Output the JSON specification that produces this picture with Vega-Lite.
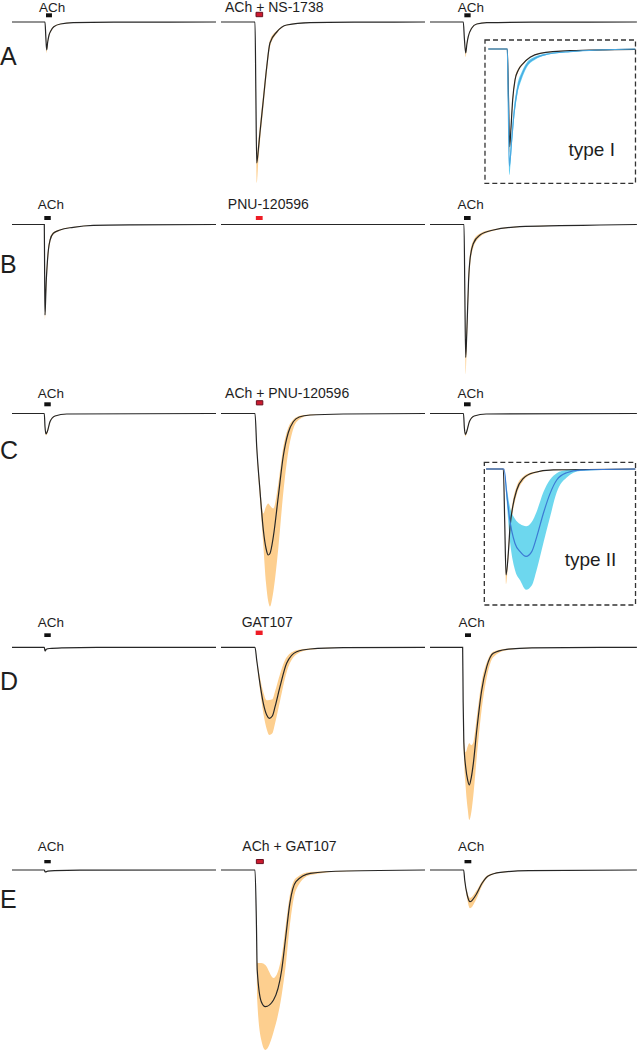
{
"$schema":"https://vega.github.io/schema/vega-lite/v6.json",
"padding":0,
"spacing":{"row":0,"column":5},
"columns":3,
"bounds":"flush",
"config":{"view":{"stroke":null},"axis":{"disable":true},"text":{"font":"Liberation Sans","color":"#1e1e1e"},"line":{"interpolate":"monotone"},"area":{"interpolate":"monotone"}},
"datasets":{
"tr":[
{"row":"A","panel":1,"t":0,"mean":0,"lo":0,"hi":0},{"row":"A","panel":1,"t":19.4,"mean":0,"lo":0,"hi":0},{"row":"A","panel":1,"t":19.9,"mean":-0.15,"lo":-0.16,"hi":-0.14},{"row":"A","panel":1,"t":20.4,"mean":-0.28,"lo":-0.31,"hi":-0.26},{"row":"A","panel":1,"t":21,"mean":-0.2,"lo":-0.22,"hi":-0.18},{"row":"A","panel":1,"t":21.8,"mean":-0.13,"lo":-0.14,"hi":-0.12},{"row":"A","panel":1,"t":22.8,"mean":-0.09,"lo":-0.1,"hi":-0.08},{"row":"A","panel":1,"t":24.6,"mean":-0.047,"lo":-0.052,"hi":-0.042},{"row":"A","panel":1,"t":28.5,"mean":-0.02,"lo":-0.022,"hi":-0.018},{"row":"A","panel":1,"t":36,"mean":-0.007,"lo":-0.008,"hi":-0.006},{"row":"A","panel":1,"t":60,"mean":-0.002,"lo":-0.002,"hi":-0.002},{"row":"A","panel":1,"t":120,"mean":0,"lo":0,"hi":0},
{"row":"A","panel":2,"t":0,"mean":0,"lo":0,"hi":0},{"row":"A","panel":2,"t":20,"mean":0,"lo":0,"hi":0},{"row":"A","panel":2,"t":20.5,"mean":-0.7,"lo":-0.78,"hi":-0.65},{"row":"A","panel":2,"t":21,"mean":-1.41,"lo":-1.61,"hi":-1.35},{"row":"A","panel":2,"t":22,"mean":-1.27,"lo":-1.38,"hi":-1.18},{"row":"A","panel":2,"t":22.9,"mean":-1.11,"lo":-1.2,"hi":-1.03},{"row":"A","panel":2,"t":24.9,"mean":-0.78,"lo":-0.86,"hi":-0.71},{"row":"A","panel":2,"t":26.9,"mean":-0.45,"lo":-0.52,"hi":-0.4},{"row":"A","panel":2,"t":28.8,"mean":-0.21,"lo":-0.25,"hi":-0.18},{"row":"A","panel":2,"t":32.8,"mean":-0.1,"lo":-0.115,"hi":-0.088},{"row":"A","panel":2,"t":38.6,"mean":-0.03,"lo":-0.035,"hi":-0.027},{"row":"A","panel":2,"t":52.4,"mean":-0.007,"lo":-0.008,"hi":-0.006},{"row":"A","panel":2,"t":80,"mean":-0.002,"lo":-0.002,"hi":-0.002},{"row":"A","panel":2,"t":120,"mean":0,"lo":0,"hi":0},
{"row":"A","panel":3,"t":0,"mean":0,"lo":0,"hi":0},{"row":"A","panel":3,"t":19.6,"mean":0,"lo":0,"hi":0},{"row":"A","panel":3,"t":20.2,"mean":-0.16,"lo":-0.17,"hi":-0.15},{"row":"A","panel":3,"t":21,"mean":-0.31,"lo":-0.35,"hi":-0.29},{"row":"A","panel":3,"t":21.7,"mean":-0.22,"lo":-0.24,"hi":-0.2},{"row":"A","panel":3,"t":22.5,"mean":-0.147,"lo":-0.16,"hi":-0.135},{"row":"A","panel":3,"t":24.5,"mean":-0.063,"lo":-0.07,"hi":-0.057},{"row":"A","panel":3,"t":27.5,"mean":-0.02,"lo":-0.022,"hi":-0.018},{"row":"A","panel":3,"t":33.4,"mean":-0.007,"lo":-0.008,"hi":-0.006},{"row":"A","panel":3,"t":60,"mean":-0.002,"lo":-0.002,"hi":-0.002},{"row":"A","panel":3,"t":121.7,"mean":0,"lo":0,"hi":0},
{"row":"B","panel":1,"t":0,"mean":0,"lo":0,"hi":0},{"row":"B","panel":1,"t":19,"mean":0,"lo":0,"hi":0},{"row":"B","panel":1,"t":19.2,"mean":-0.5,"lo":-0.52,"hi":-0.48},{"row":"B","panel":1,"t":19.4,"mean":-0.905,"lo":-0.95,"hi":-0.88},{"row":"B","panel":1,"t":19.7,"mean":-0.79,"lo":-0.85,"hi":-0.74},{"row":"B","panel":1,"t":20.1,"mean":-0.585,"lo":-0.66,"hi":-0.52},{"row":"B","panel":1,"t":20.5,"mean":-0.455,"lo":-0.53,"hi":-0.4},{"row":"B","panel":1,"t":21.4,"mean":-0.255,"lo":-0.3,"hi":-0.22},{"row":"B","panel":1,"t":22.4,"mean":-0.155,"lo":-0.18,"hi":-0.135},{"row":"B","panel":1,"t":24.3,"mean":-0.088,"lo":-0.1,"hi":-0.078},{"row":"B","panel":1,"t":28.2,"mean":-0.055,"lo":-0.062,"hi":-0.049},{"row":"B","panel":1,"t":36,"mean":-0.028,"lo":-0.031,"hi":-0.025},{"row":"B","panel":1,"t":47.8,"mean":-0.008,"lo":-0.009,"hi":-0.007},{"row":"B","panel":1,"t":70,"mean":-0.003,"lo":-0.003,"hi":-0.003},{"row":"B","panel":1,"t":120,"mean":0,"lo":0,"hi":0},
{"row":"B","panel":2,"t":0,"mean":0,"lo":0,"hi":0},{"row":"B","panel":2,"t":120,"mean":0,"lo":0,"hi":0},
{"row":"B","panel":3,"t":0,"mean":0,"lo":0,"hi":0},{"row":"B","panel":3,"t":20,"mean":0,"lo":0,"hi":0},{"row":"B","panel":3,"t":20.5,"mean":-0.7,"lo":-0.75,"hi":-0.66},{"row":"B","panel":3,"t":21,"mean":-1.33,"lo":-1.5,"hi":-1.25},{"row":"B","panel":3,"t":21.5,"mean":-1.15,"lo":-1.27,"hi":-1.05},{"row":"B","panel":3,"t":21.9,"mean":-0.955,"lo":-1.06,"hi":-0.87},{"row":"B","panel":3,"t":22.7,"mean":-0.555,"lo":-0.66,"hi":-0.48},{"row":"B","panel":3,"t":23.5,"mean":-0.355,"lo":-0.43,"hi":-0.3},{"row":"B","panel":3,"t":25.5,"mean":-0.19,"lo":-0.23,"hi":-0.16},{"row":"B","panel":3,"t":29.4,"mean":-0.105,"lo":-0.125,"hi":-0.09},{"row":"B","panel":3,"t":37.3,"mean":-0.055,"lo":-0.062,"hi":-0.048},{"row":"B","panel":3,"t":52.9,"mean":-0.022,"lo":-0.025,"hi":-0.019},{"row":"B","panel":3,"t":76.5,"mean":-0.012,"lo":-0.013,"hi":-0.011},{"row":"B","panel":3,"t":100,"mean":-0.005,"lo":-0.005,"hi":-0.005},{"row":"B","panel":3,"t":121.7,"mean":0,"lo":0,"hi":0},
{"row":"C","panel":1,"t":0,"mean":0,"lo":0,"hi":0},{"row":"C","panel":1,"t":19,"mean":0,"lo":0,"hi":0},{"row":"C","panel":1,"t":19.4,"mean":-0.13,"lo":-0.14,"hi":-0.12},{"row":"C","panel":1,"t":20,"mean":-0.205,"lo":-0.22,"hi":-0.19},{"row":"C","panel":1,"t":20.8,"mean":-0.18,"lo":-0.195,"hi":-0.167},{"row":"C","panel":1,"t":22.4,"mean":-0.08,"lo":-0.087,"hi":-0.073},{"row":"C","panel":1,"t":25.3,"mean":-0.025,"lo":-0.028,"hi":-0.022},{"row":"C","panel":1,"t":32.2,"mean":-0.005,"lo":-0.005,"hi":-0.005},{"row":"C","panel":1,"t":120,"mean":0,"lo":0,"hi":0},
{"row":"C","panel":2,"t":0,"mean":0,"lo":0,"hi":0},{"row":"C","panel":2,"t":20,"mean":0,"lo":0,"hi":0},{"row":"C","panel":2,"t":21,"mean":-0.33,"lo":-0.36,"hi":-0.3},{"row":"C","panel":2,"t":22.9,"mean":-0.765,"lo":-0.85,"hi":-0.7},{"row":"C","panel":2,"t":24.9,"mean":-1.165,"lo":-1.32,"hi":-1.0},{"row":"C","panel":2,"t":26.5,"mean":-1.35,"lo":-1.7,"hi":-0.93},{"row":"C","panel":2,"t":27.8,"mean":-1.415,"lo":-1.88,"hi":-0.9},{"row":"C","panel":2,"t":28.8,"mean":-1.4,"lo":-1.93,"hi":-0.92},{"row":"C","panel":2,"t":30.8,"mean":-1.23,"lo":-1.78,"hi":-0.95},{"row":"C","panel":2,"t":33.7,"mean":-0.83,"lo":-1.35,"hi":-0.7},{"row":"C","panel":2,"t":36.6,"mean":-0.43,"lo":-0.8,"hi":-0.34},{"row":"C","panel":2,"t":39.6,"mean":-0.19,"lo":-0.38,"hi":-0.14},{"row":"C","panel":2,"t":42.6,"mean":-0.08,"lo":-0.15,"hi":-0.06},{"row":"C","panel":2,"t":46,"mean":-0.035,"lo":-0.06,"hi":-0.025},{"row":"C","panel":2,"t":52.4,"mean":-0.015,"lo":-0.02,"hi":-0.01},{"row":"C","panel":2,"t":72,"mean":-0.005,"lo":-0.005,"hi":-0.005},{"row":"C","panel":2,"t":120,"mean":0,"lo":0,"hi":0},
{"row":"C","panel":3,"t":0,"mean":0,"lo":0,"hi":0},{"row":"C","panel":3,"t":19.7,"mean":0,"lo":0,"hi":0},{"row":"C","panel":3,"t":20.2,"mean":-0.14,"lo":-0.15,"hi":-0.13},{"row":"C","panel":3,"t":20.8,"mean":-0.21,"lo":-0.23,"hi":-0.195},{"row":"C","panel":3,"t":21.6,"mean":-0.18,"lo":-0.195,"hi":-0.167},{"row":"C","panel":3,"t":23.2,"mean":-0.08,"lo":-0.087,"hi":-0.073},{"row":"C","panel":3,"t":26,"mean":-0.025,"lo":-0.028,"hi":-0.022},{"row":"C","panel":3,"t":33,"mean":-0.005,"lo":-0.005,"hi":-0.005},{"row":"C","panel":3,"t":121.7,"mean":0,"lo":0,"hi":0},
{"row":"D","panel":1,"t":0,"mean":0,"lo":0,"hi":0},{"row":"D","panel":1,"t":19,"mean":0,"lo":0,"hi":0},{"row":"D","panel":1,"t":19.4,"mean":-0.037,"lo":-0.04,"hi":-0.034},{"row":"D","panel":1,"t":20.2,"mean":-0.02,"lo":-0.022,"hi":-0.018},{"row":"D","panel":1,"t":22,"mean":-0.012,"lo":-0.013,"hi":-0.011},{"row":"D","panel":1,"t":30,"mean":-0.005,"lo":-0.005,"hi":-0.005},{"row":"D","panel":1,"t":50,"mean":0,"lo":0,"hi":0},{"row":"D","panel":1,"t":120,"mean":0,"lo":0,"hi":0},
{"row":"D","panel":2,"t":0,"mean":0,"lo":0,"hi":0},{"row":"D","panel":2,"t":20,"mean":0,"lo":0,"hi":0},{"row":"D","panel":2,"t":21,"mean":-0.127,"lo":-0.14,"hi":-0.115},{"row":"D","panel":2,"t":22.9,"mean":-0.36,"lo":-0.42,"hi":-0.3},{"row":"D","panel":2,"t":24.9,"mean":-0.56,"lo":-0.66,"hi":-0.45},{"row":"D","panel":2,"t":26.9,"mean":-0.677,"lo":-0.82,"hi":-0.53},{"row":"D","panel":2,"t":28.4,"mean":-0.71,"lo":-0.877,"hi":-0.527},{"row":"D","panel":2,"t":30.2,"mean":-0.687,"lo":-0.86,"hi":-0.52},{"row":"D","panel":2,"t":31.8,"mean":-0.594,"lo":-0.76,"hi":-0.44},{"row":"D","panel":2,"t":34.7,"mean":-0.394,"lo":-0.54,"hi":-0.27},{"row":"D","panel":2,"t":38.6,"mean":-0.16,"lo":-0.25,"hi":-0.1},{"row":"D","panel":2,"t":44.5,"mean":-0.044,"lo":-0.07,"hi":-0.03},{"row":"D","panel":2,"t":52.4,"mean":-0.017,"lo":-0.025,"hi":-0.012},{"row":"D","panel":2,"t":72,"mean":-0.004,"lo":-0.005,"hi":-0.003},{"row":"D","panel":2,"t":120,"mean":0,"lo":0,"hi":0},
{"row":"D","panel":3,"t":0,"mean":0,"lo":0,"hi":0},{"row":"D","panel":3,"t":19.2,"mean":0,"lo":0,"hi":0},{"row":"D","panel":3,"t":19.5,"mean":-0.55,"lo":-0.6,"hi":-0.5},{"row":"D","panel":3,"t":19.9,"mean":-0.95,"lo":-1.05,"hi":-0.88},{"row":"D","panel":3,"t":21,"mean":-1.2,"lo":-1.4,"hi":-1.05},{"row":"D","panel":3,"t":22.2,"mean":-1.33,"lo":-1.62,"hi":-0.99},{"row":"D","panel":3,"t":23.1,"mean":-1.377,"lo":-1.727,"hi":-0.96},{"row":"D","panel":3,"t":24.3,"mean":-1.3,"lo":-1.65,"hi":-0.98},{"row":"D","panel":3,"t":25.5,"mean":-1.16,"lo":-1.48,"hi":-0.95},{"row":"D","panel":3,"t":27.5,"mean":-0.83,"lo":-1.1,"hi":-0.7},{"row":"D","panel":3,"t":30.4,"mean":-0.43,"lo":-0.62,"hi":-0.34},{"row":"D","panel":3,"t":33.4,"mean":-0.194,"lo":-0.3,"hi":-0.15},{"row":"D","panel":3,"t":37.2,"mean":-0.06,"lo":-0.1,"hi":-0.045},{"row":"D","panel":3,"t":45.1,"mean":-0.02,"lo":-0.03,"hi":-0.015},{"row":"D","panel":3,"t":60,"mean":-0.005,"lo":-0.006,"hi":-0.004},{"row":"D","panel":3,"t":121.7,"mean":0,"lo":0,"hi":0},
{"row":"E","panel":1,"t":0,"mean":0,"lo":0,"hi":0},{"row":"E","panel":1,"t":19,"mean":0,"lo":0,"hi":0},{"row":"E","panel":1,"t":19.5,"mean":-0.02,"lo":-0.022,"hi":-0.018},{"row":"E","panel":1,"t":21,"mean":-0.012,"lo":-0.013,"hi":-0.011},{"row":"E","panel":1,"t":25,"mean":-0.006,"lo":-0.006,"hi":-0.006},{"row":"E","panel":1,"t":40,"mean":-0.002,"lo":-0.002,"hi":-0.002},{"row":"E","panel":1,"t":120,"mean":0,"lo":0,"hi":0},
{"row":"E","panel":2,"t":0,"mean":0,"lo":0,"hi":0},{"row":"E","panel":2,"t":20,"mean":0,"lo":0,"hi":0},{"row":"E","panel":2,"t":20.8,"mean":-0.5,"lo":-0.55,"hi":-0.45},{"row":"E","panel":2,"t":21.3,"mean":-1,"lo":-1.3,"hi":-0.93},{"row":"E","panel":2,"t":23.7,"mean":-1.317,"lo":-1.7,"hi":-0.93},{"row":"E","panel":2,"t":26.1,"mean":-1.367,"lo":-1.8,"hi":-0.95},{"row":"E","panel":2,"t":30.9,"mean":-1.3,"lo":-1.62,"hi":-1.08},{"row":"E","panel":2,"t":35.7,"mean":-1,"lo":-1.25,"hi":-0.86},{"row":"E","panel":2,"t":38.1,"mean":-0.667,"lo":-0.95,"hi":-0.55},{"row":"E","panel":2,"t":40.5,"mean":-0.333,"lo":-0.55,"hi":-0.25},{"row":"E","panel":2,"t":44.1,"mean":-0.117,"lo":-0.2,"hi":-0.08},{"row":"E","panel":2,"t":52.5,"mean":-0.033,"lo":-0.05,"hi":-0.02},{"row":"E","panel":2,"t":74,"mean":-0.01,"lo":-0.012,"hi":-0.008},{"row":"E","panel":2,"t":120,"mean":0,"lo":0,"hi":0},
{"row":"E","panel":3,"t":0,"mean":0,"lo":0,"hi":0},{"row":"E","panel":3,"t":19.8,"mean":0,"lo":0,"hi":0},{"row":"E","panel":3,"t":20.4,"mean":-0.1,"lo":-0.11,"hi":-0.09},{"row":"E","panel":3,"t":21.9,"mean":-0.25,"lo":-0.29,"hi":-0.22},{"row":"E","panel":3,"t":23.5,"mean":-0.317,"lo":-0.383,"hi":-0.28},{"row":"E","panel":3,"t":27,"mean":-0.25,"lo":-0.3,"hi":-0.215},{"row":"E","panel":3,"t":30.6,"mean":-0.133,"lo":-0.16,"hi":-0.115},{"row":"E","panel":3,"t":34.2,"mean":-0.06,"lo":-0.07,"hi":-0.05},{"row":"E","panel":3,"t":41.4,"mean":-0.023,"lo":-0.027,"hi":-0.02},{"row":"E","panel":3,"t":58,"mean":-0.007,"lo":-0.008,"hi":-0.006},{"row":"E","panel":3,"t":121.7,"mean":0,"lo":0,"hi":0}
],
"ins":[
{"inset":"A","series":"control","t":-4.75,"mean":0,"lo":0,"hi":0},{"inset":"A","series":"control","t":0,"mean":0,"lo":0,"hi":0},{"inset":"A","series":"control","t":0.3,"mean":-0.5,"lo":-0.52,"hi":-0.48},{"inset":"A","series":"control","t":0.6,"mean":-1,"lo":-1.06,"hi":-0.97},{"inset":"A","series":"control","t":0.84,"mean":-0.863,"lo":-0.9,"hi":-0.83},{"inset":"A","series":"control","t":1.34,"mean":-0.522,"lo":-0.56,"hi":-0.49},{"inset":"A","series":"control","t":1.93,"mean":-0.317,"lo":-0.34,"hi":-0.295},{"inset":"A","series":"control","t":2.76,"mean":-0.215,"lo":-0.23,"hi":-0.2},{"inset":"A","series":"control","t":4,"mean":-0.147,"lo":-0.157,"hi":-0.137},{"inset":"A","series":"control","t":5.7,"mean":-0.085,"lo":-0.09,"hi":-0.08},{"inset":"A","series":"control","t":8.2,"mean":-0.044,"lo":-0.047,"hi":-0.041},{"inset":"A","series":"control","t":15.7,"mean":-0.017,"lo":-0.018,"hi":-0.016},{"inset":"A","series":"control","t":32,"mean":-0.003,"lo":-0.003,"hi":-0.003},
{"inset":"A","series":"modulator","t":-4.75,"mean":0,"lo":0,"hi":0},{"inset":"A","series":"modulator","t":0,"mean":0,"lo":0,"hi":0},{"inset":"A","series":"modulator","t":0.25,"mean":-0.6,"lo":-0.63,"hi":-0.57},{"inset":"A","series":"modulator","t":0.5,"mean":-1.2,"lo":-1.29,"hi":-1.12},{"inset":"A","series":"modulator","t":1.1,"mean":-0.93,"lo":-1,"hi":-0.87},{"inset":"A","series":"modulator","t":1.68,"mean":-0.66,"lo":-0.72,"hi":-0.6},{"inset":"A","series":"modulator","t":2.5,"mean":-0.42,"lo":-0.47,"hi":-0.37},{"inset":"A","series":"modulator","t":3.6,"mean":-0.27,"lo":-0.31,"hi":-0.235},{"inset":"A","series":"modulator","t":4.85,"mean":-0.164,"lo":-0.19,"hi":-0.14},{"inset":"A","series":"modulator","t":6.9,"mean":-0.095,"lo":-0.11,"hi":-0.08},{"inset":"A","series":"modulator","t":9.85,"mean":-0.054,"lo":-0.062,"hi":-0.046},{"inset":"A","series":"modulator","t":15.7,"mean":-0.027,"lo":-0.03,"hi":-0.024},{"inset":"A","series":"modulator","t":32,"mean":0,"lo":0,"hi":0},
{"inset":"C","series":"control","t":-4.3,"mean":0,"lo":0,"hi":0},{"inset":"C","series":"control","t":0,"mean":0,"lo":0,"hi":0},{"inset":"C","series":"control","t":0.35,"mean":-0.5,"lo":-0.52,"hi":-0.48},{"inset":"C","series":"control","t":0.68,"mean":-1,"lo":-1.09,"hi":-0.97},{"inset":"C","series":"control","t":1.25,"mean":-0.795,"lo":-0.85,"hi":-0.75},{"inset":"C","series":"control","t":1.68,"mean":-0.544,"lo":-0.6,"hi":-0.5},{"inset":"C","series":"control","t":2.35,"mean":-0.356,"lo":-0.41,"hi":-0.31},{"inset":"C","series":"control","t":3.35,"mean":-0.198,"lo":-0.24,"hi":-0.16},{"inset":"C","series":"control","t":5,"mean":-0.088,"lo":-0.11,"hi":-0.07},{"inset":"C","series":"control","t":7.5,"mean":-0.035,"lo":-0.045,"hi":-0.028},{"inset":"C","series":"control","t":12.5,"mean":-0.009,"lo":-0.012,"hi":-0.007},{"inset":"C","series":"control","t":33,"mean":0,"lo":0,"hi":0},
{"inset":"C","series":"modulator","t":-4.3,"mean":0,"lo":0,"hi":0},{"inset":"C","series":"modulator","t":0.18,"mean":0,"lo":0,"hi":0},{"inset":"C","series":"modulator","t":0.84,"mean":-0.23,"lo":-0.3,"hi":-0.17},{"inset":"C","series":"modulator","t":1.5,"mean":-0.45,"lo":-0.62,"hi":-0.33},{"inset":"C","series":"modulator","t":2.9,"mean":-0.7,"lo":-0.95,"hi":-0.47},{"inset":"C","series":"modulator","t":4.2,"mean":-0.78,"lo":-1.05,"hi":-0.52},{"inset":"C","series":"modulator","t":5.7,"mean":-0.825,"lo":-1.14,"hi":-0.54},{"inset":"C","series":"modulator","t":7.1,"mean":-0.78,"lo":-1.1,"hi":-0.5},{"inset":"C","series":"modulator","t":8.35,"mean":-0.64,"lo":-0.95,"hi":-0.4},{"inset":"C","series":"modulator","t":10,"mean":-0.42,"lo":-0.7,"hi":-0.22},{"inset":"C","series":"modulator","t":11.7,"mean":-0.23,"lo":-0.45,"hi":-0.1},{"inset":"C","series":"modulator","t":13.35,"mean":-0.104,"lo":-0.22,"hi":-0.04},{"inset":"C","series":"modulator","t":15.85,"mean":-0.035,"lo":-0.08,"hi":-0.01},{"inset":"C","series":"modulator","t":19.2,"mean":-0.01,"lo":-0.02,"hi":0},{"inset":"C","series":"modulator","t":33,"mean":0,"lo":0,"hi":0}
],
"apps":[
{"row":"A","panel":1,"label":"ACh","t0":20,"t1":23.5},
{"row":"A","panel":2,"label":"ACh + NS-1738","t0":20.6,"t1":24.5},
{"row":"A","panel":3,"label":"ACh","t0":20.2,"t1":23.9},
{"row":"B","panel":1,"label":"ACh","t0":19,"t1":22.8},
{"row":"B","panel":2,"label":"PNU-120596","t0":20.5,"t1":24.5},
{"row":"B","panel":3,"label":"ACh","t0":20,"t1":23.9},
{"row":"C","panel":1,"label":"ACh","t0":19,"t1":22.8},
{"row":"C","panel":2,"label":"ACh + PNU-120596","t0":20.8,"t1":24.6},
{"row":"C","panel":3,"label":"ACh","t0":20,"t1":23.9},
{"row":"D","panel":1,"label":"ACh","t0":19,"t1":22.8},
{"row":"D","panel":2,"label":"GAT107","t0":20.4,"t1":24.5},
{"row":"D","panel":3,"label":"ACh","t0":20.6,"t1":24.1},
{"row":"E","panel":1,"label":"ACh","t0":19,"t1":22.8},
{"row":"E","panel":2,"label":"ACh + GAT107","t0":20.8,"t1":24.9},
{"row":"E","panel":3,"label":"ACh","t0":20.3,"t1":24.3}
]
},
"concat":[
 {"width":216,"height":195,"layer":[
  {"data":{"name":"tr"},"transform":[{"filter":"datum.row==='A' && datum.panel===1"}],
   "encoding":{"x":{"field":"t","type":"quantitative","scale":{"domain":[-7.06,120],"nice":false}}},
   "layer":[
    {"mark":{"type":"area","color":"#fdcf8f"},"encoding":{"y":{"field":"lo","type":"quantitative","scale":{"domain":[-1.73,0.22],"nice":false}},"y2":{"field":"hi"}}},
    {"mark":{"type":"line","color":"#262626","strokeWidth":1.2},"encoding":{"y":{"field":"mean","type":"quantitative","scale":{"domain":[-1.73,0.22],"nice":false}}}}
   ]},
  {"data":{"name":"apps"},"transform":[{"filter":"datum.row==='A' && datum.panel===1"}],
   "encoding":{"x":{"field":"t0","type":"quantitative","scale":{"domain":[-7.06,120],"nice":false}}},
   "layer":[
    {"mark":{"type":"rect","fill":"#111"},"encoding":{"x2":{"field":"t1"},"y":{"datum":0.087,"type":"quantitative","scale":{"domain":[-1.73,0.22],"nice":false}},"y2":{"datum":0.047}}},
    {"mark":{"type":"text","align":"left","baseline":"middle","dx":-7,"fontSize":13.5},"encoding":{"y":{"datum":0.145,"type":"quantitative","scale":{"domain":[-1.73,0.22],"nice":false}},"text":{"field":"label"}}}
   ]},
  {"data":{"values":[{"letter":"A"}]},"mark":{"type":"text","align":"left","baseline":"middle","fontSize":25},"encoding":{"x":{"datum":-7.06,"type":"quantitative","scale":{"domain":[-7.06,120],"nice":false}},"y":{"datum":-0.35,"type":"quantitative","scale":{"domain":[-1.73,0.22],"nice":false}},"text":{"field":"letter"}}}
 ]},
 {"width":204,"height":195,"layer":[
  {"data":{"name":"tr"},"transform":[{"filter":"datum.row==='A' && datum.panel===2"}],
   "encoding":{"x":{"field":"t","type":"quantitative","scale":{"domain":[0,120],"nice":false}}},
   "layer":[
    {"mark":{"type":"area","color":"#fdcf8f"},"encoding":{"y":{"field":"lo","type":"quantitative","scale":{"domain":[-1.73,0.22],"nice":false}},"y2":{"field":"hi"}}},
    {"mark":{"type":"line","color":"#262626","strokeWidth":1.2},"encoding":{"y":{"field":"mean","type":"quantitative","scale":{"domain":[-1.73,0.22],"nice":false}}}}
   ]},
  {"data":{"name":"apps"},"transform":[{"filter":"datum.row==='A' && datum.panel===2"}],
   "encoding":{"x":{"field":"t0","type":"quantitative","scale":{"domain":[0,120],"nice":false}}},
   "layer":[
    {"mark":{"type":"rect","fill":"#cc1a2e","stroke":"#6a1020","strokeWidth":1},"encoding":{"x2":{"field":"t1"},"y":{"datum":0.097,"type":"quantitative","scale":{"domain":[-1.73,0.22],"nice":false}},"y2":{"datum":0.053}}},
    {"mark":{"type":"text","align":"left","baseline":"middle","dx":-31,"fontSize":14},"encoding":{"y":{"datum":0.145,"type":"quantitative","scale":{"domain":[-1.73,0.22],"nice":false}},"text":{"field":"label"}}}
   ]}
 ]},
 {"width":207,"height":195,"resolve":{"scale":{"x":"independent","y":"independent"}},"layer":[
  {"layer":[
   {"data":{"name":"tr"},"transform":[{"filter":"datum.row==='A' && datum.panel===3"}],
    "encoding":{"x":{"field":"t","type":"quantitative","scale":{"domain":[0,121.76],"nice":false}}},
    "layer":[
     {"mark":{"type":"area","color":"#fdcf8f"},"encoding":{"y":{"field":"lo","type":"quantitative","scale":{"domain":[-1.73,0.22],"nice":false}},"y2":{"field":"hi"}}},
     {"mark":{"type":"line","color":"#262626","strokeWidth":1.2},"encoding":{"y":{"field":"mean","type":"quantitative","scale":{"domain":[-1.73,0.22],"nice":false}}}}
    ]},
   {"data":{"name":"apps"},"transform":[{"filter":"datum.row==='A' && datum.panel===3"}],
    "encoding":{"x":{"field":"t0","type":"quantitative","scale":{"domain":[0,121.76],"nice":false}}},
    "layer":[
     {"mark":{"type":"rect","fill":"#111"},"encoding":{"x2":{"field":"t1"},"y":{"datum":0.087,"type":"quantitative","scale":{"domain":[-1.73,0.22],"nice":false}},"y2":{"datum":0.047}}},
     {"mark":{"type":"text","align":"left","baseline":"middle","dx":-6.5,"fontSize":13.5},"encoding":{"y":{"datum":0.145,"type":"quantitative","scale":{"domain":[-1.73,0.22],"nice":false}},"text":{"field":"label"}}}
    ]}
  ]},
  {"layer":[
   {"data":{"values":[{"frame":"type I"}]},"mark":{"type":"rect","filled":false,"stroke":"#333","strokeWidth":1.3,"strokeDash":[5,3]},"encoding":{"x":{"datum":-5.58,"type":"quantitative","scale":{"domain":[-19.33,32.43],"nice":false}},"x2":{"datum":32.05},"y":{"datum":0.092,"type":"quantitative","scale":{"domain":[-1.4944,0.5015],"nice":false}},"y2":{"datum":-1.375}}},
   {"data":{"name":"ins"},"transform":[{"filter":"datum.inset==='A'"}],
    "encoding":{"x":{"field":"t","type":"quantitative","scale":{"domain":[-19.33,32.43],"nice":false}}},
    "layer":[
     {"transform":[{"filter":"datum.series==='control'"}],"mark":{"type":"area","color":"#fdcf8f"},"encoding":{"y":{"field":"lo","type":"quantitative","scale":{"domain":[-1.4944,0.5015],"nice":false}},"y2":{"field":"hi"}}},
     {"transform":[{"filter":"datum.series==='modulator'"}],"mark":{"type":"area","color":"#4fc9ef","opacity":0.9},"encoding":{"y":{"field":"lo","type":"quantitative","scale":{"domain":[-1.4944,0.5015],"nice":false}},"y2":{"field":"hi"}}},
     {"transform":[{"filter":"datum.series==='control'"}],"mark":{"type":"line","color":"#262626","strokeWidth":1.2},"encoding":{"y":{"field":"mean","type":"quantitative","scale":{"domain":[-1.4944,0.5015],"nice":false}}}},
     {"transform":[{"filter":"datum.series==='modulator'"}],"mark":{"type":"line","color":"#4aa8e0","strokeWidth":1.2},"encoding":{"y":{"field":"mean","type":"quantitative","scale":{"domain":[-1.4944,0.5015],"nice":false}}}}
    ]},
   {"data":{"values":[{"txt":"type I"}]},"mark":{"type":"text","align":"center","baseline":"middle","fontSize":19},"encoding":{"x":{"datum":21.1,"type":"quantitative","scale":{"domain":[-19.33,32.43],"nice":false}},"y":{"datum":-1.034,"type":"quantitative","scale":{"domain":[-1.4944,0.5015],"nice":false}},"text":{"field":"txt"}}}
  ]}
 ]},
 {"width":216,"height":190,"layer":[
  {"data":{"name":"tr"},"transform":[{"filter":"datum.row==='B' && datum.panel===1"}],
   "encoding":{"x":{"field":"t","type":"quantitative","scale":{"domain":[-7.06,120],"nice":false}}},
   "layer":[
    {"mark":{"type":"area","color":"#fdcf8f"},"encoding":{"y":{"field":"lo","type":"quantitative","scale":{"domain":[-1.605,0.295],"nice":false}},"y2":{"field":"hi"}}},
    {"mark":{"type":"line","color":"#262626","strokeWidth":1.2},"encoding":{"y":{"field":"mean","type":"quantitative","scale":{"domain":[-1.605,0.295],"nice":false}}}}
   ]},
  {"data":{"name":"apps"},"transform":[{"filter":"datum.row==='B' && datum.panel===1"}],
   "encoding":{"x":{"field":"t0","type":"quantitative","scale":{"domain":[-7.06,120],"nice":false}}},
   "layer":[
    {"mark":{"type":"rect","fill":"#111"},"encoding":{"x2":{"field":"t1"},"y":{"datum":0.085,"type":"quantitative","scale":{"domain":[-1.605,0.295],"nice":false}},"y2":{"datum":0.045}}},
    {"mark":{"type":"text","align":"left","baseline":"middle","dx":-6.5,"fontSize":13.5},"encoding":{"y":{"datum":0.195,"type":"quantitative","scale":{"domain":[-1.605,0.295],"nice":false}},"text":{"field":"label"}}}
   ]},
  {"data":{"values":[{"letter":"B"}]},"mark":{"type":"text","align":"left","baseline":"middle","fontSize":25},"encoding":{"x":{"datum":-7.06,"type":"quantitative","scale":{"domain":[-7.06,120],"nice":false}},"y":{"datum":-0.405,"type":"quantitative","scale":{"domain":[-1.605,0.295],"nice":false}},"text":{"field":"letter"}}}
 ]},
 {"width":204,"height":190,"layer":[
  {"data":{"name":"tr"},"transform":[{"filter":"datum.row==='B' && datum.panel===2"}],
   "encoding":{"x":{"field":"t","type":"quantitative","scale":{"domain":[0,120],"nice":false}}},
   "layer":[
    {"mark":{"type":"area","color":"#fdcf8f"},"encoding":{"y":{"field":"lo","type":"quantitative","scale":{"domain":[-1.605,0.295],"nice":false}},"y2":{"field":"hi"}}},
    {"mark":{"type":"line","color":"#262626","strokeWidth":1.2},"encoding":{"y":{"field":"mean","type":"quantitative","scale":{"domain":[-1.605,0.295],"nice":false}}}}
   ]},
  {"data":{"name":"apps"},"transform":[{"filter":"datum.row==='B' && datum.panel===2"}],
   "encoding":{"x":{"field":"t0","type":"quantitative","scale":{"domain":[0,120],"nice":false}}},
   "layer":[
    {"mark":{"type":"rect","fill":"#ee1c25"},"encoding":{"x2":{"field":"t1"},"y":{"datum":0.085,"type":"quantitative","scale":{"domain":[-1.605,0.295],"nice":false}},"y2":{"datum":0.045}}},
    {"mark":{"type":"text","align":"left","baseline":"middle","dx":-28,"fontSize":14},"encoding":{"y":{"datum":0.195,"type":"quantitative","scale":{"domain":[-1.605,0.295],"nice":false}},"text":{"field":"label"}}}
   ]}
 ]},
 {"width":207,"height":190,"layer":[
  {"data":{"name":"tr"},"transform":[{"filter":"datum.row==='B' && datum.panel===3"}],
   "encoding":{"x":{"field":"t","type":"quantitative","scale":{"domain":[0,121.76],"nice":false}}},
   "layer":[
    {"mark":{"type":"area","color":"#fdcf8f"},"encoding":{"y":{"field":"lo","type":"quantitative","scale":{"domain":[-1.605,0.295],"nice":false}},"y2":{"field":"hi"}}},
    {"mark":{"type":"line","color":"#262626","strokeWidth":1.2},"encoding":{"y":{"field":"mean","type":"quantitative","scale":{"domain":[-1.605,0.295],"nice":false}}}}
   ]},
  {"data":{"name":"apps"},"transform":[{"filter":"datum.row==='B' && datum.panel===3"}],
   "encoding":{"x":{"field":"t0","type":"quantitative","scale":{"domain":[0,121.76],"nice":false}}},
   "layer":[
    {"mark":{"type":"rect","fill":"#111"},"encoding":{"x2":{"field":"t1"},"y":{"datum":0.085,"type":"quantitative","scale":{"domain":[-1.605,0.295],"nice":false}},"y2":{"datum":0.045}}},
    {"mark":{"type":"text","align":"left","baseline":"middle","dx":-6.5,"fontSize":13.5},"encoding":{"y":{"datum":0.195,"type":"quantitative","scale":{"domain":[-1.605,0.295],"nice":false}},"text":{"field":"label"}}}
   ]}
 ]},
 {"width":216,"height":230,"layer":[
  {"data":{"name":"tr"},"transform":[{"filter":"datum.row==='C' && datum.panel===1"}],
   "encoding":{"x":{"field":"t","type":"quantitative","scale":{"domain":[-7.06,120],"nice":false}}},
   "layer":[
    {"mark":{"type":"area","color":"#fdcf8f"},"encoding":{"y":{"field":"lo","type":"quantitative","scale":{"domain":[-2.015,0.285],"nice":false}},"y2":{"field":"hi"}}},
    {"mark":{"type":"line","color":"#262626","strokeWidth":1.2},"encoding":{"y":{"field":"mean","type":"quantitative","scale":{"domain":[-2.015,0.285],"nice":false}}}}
   ]},
  {"data":{"name":"apps"},"transform":[{"filter":"datum.row==='C' && datum.panel===1"}],
   "encoding":{"x":{"field":"t0","type":"quantitative","scale":{"domain":[-7.06,120],"nice":false}}},
   "layer":[
    {"mark":{"type":"rect","fill":"#111"},"encoding":{"x2":{"field":"t1"},"y":{"datum":0.112,"type":"quantitative","scale":{"domain":[-2.015,0.285],"nice":false}},"y2":{"datum":0.072}}},
    {"mark":{"type":"text","align":"left","baseline":"middle","dx":-6.5,"fontSize":13.5},"encoding":{"y":{"datum":0.195,"type":"quantitative","scale":{"domain":[-2.015,0.285],"nice":false}},"text":{"field":"label"}}}
   ]},
  {"data":{"values":[{"letter":"C"}]},"mark":{"type":"text","align":"left","baseline":"middle","fontSize":25},"encoding":{"x":{"datum":-7.06,"type":"quantitative","scale":{"domain":[-7.06,120],"nice":false}},"y":{"datum":-0.37,"type":"quantitative","scale":{"domain":[-2.015,0.285],"nice":false}},"text":{"field":"letter"}}}
 ]},
 {"width":204,"height":230,"layer":[
  {"data":{"name":"tr"},"transform":[{"filter":"datum.row==='C' && datum.panel===2"}],
   "encoding":{"x":{"field":"t","type":"quantitative","scale":{"domain":[0,120],"nice":false}}},
   "layer":[
    {"mark":{"type":"area","color":"#fdcf8f"},"encoding":{"y":{"field":"lo","type":"quantitative","scale":{"domain":[-2.015,0.285],"nice":false}},"y2":{"field":"hi"}}},
    {"mark":{"type":"line","color":"#262626","strokeWidth":1.2},"encoding":{"y":{"field":"mean","type":"quantitative","scale":{"domain":[-2.015,0.285],"nice":false}}}}
   ]},
  {"data":{"name":"apps"},"transform":[{"filter":"datum.row==='C' && datum.panel===2"}],
   "encoding":{"x":{"field":"t0","type":"quantitative","scale":{"domain":[0,120],"nice":false}}},
   "layer":[
    {"mark":{"type":"rect","fill":"#cc1a2e","stroke":"#6a1020","strokeWidth":1},"encoding":{"x2":{"field":"t1"},"y":{"datum":0.128,"type":"quantitative","scale":{"domain":[-2.015,0.285],"nice":false}},"y2":{"datum":0.086}}},
    {"mark":{"type":"text","align":"left","baseline":"middle","dx":-31.3,"fontSize":14},"encoding":{"y":{"datum":0.195,"type":"quantitative","scale":{"domain":[-2.015,0.285],"nice":false}},"text":{"field":"label"}}}
   ]}
 ]},
 {"width":207,"height":230,"resolve":{"scale":{"x":"independent","y":"independent"}},"layer":[
  {"layer":[
   {"data":{"name":"tr"},"transform":[{"filter":"datum.row==='C' && datum.panel===3"}],
    "encoding":{"x":{"field":"t","type":"quantitative","scale":{"domain":[0,121.76],"nice":false}}},
    "layer":[
     {"mark":{"type":"area","color":"#fdcf8f"},"encoding":{"y":{"field":"lo","type":"quantitative","scale":{"domain":[-2.015,0.285],"nice":false}},"y2":{"field":"hi"}}},
     {"mark":{"type":"line","color":"#262626","strokeWidth":1.2},"encoding":{"y":{"field":"mean","type":"quantitative","scale":{"domain":[-2.015,0.285],"nice":false}}}}
    ]},
   {"data":{"name":"apps"},"transform":[{"filter":"datum.row==='C' && datum.panel===3"}],
    "encoding":{"x":{"field":"t0","type":"quantitative","scale":{"domain":[0,121.76],"nice":false}}},
    "layer":[
     {"mark":{"type":"rect","fill":"#111"},"encoding":{"x2":{"field":"t1"},"y":{"datum":0.112,"type":"quantitative","scale":{"domain":[-2.015,0.285],"nice":false}},"y2":{"datum":0.072}}},
     {"mark":{"type":"text","align":"left","baseline":"middle","dx":-6.5,"fontSize":13.5},"encoding":{"y":{"datum":0.195,"type":"quantitative","scale":{"domain":[-2.015,0.285],"nice":false}},"text":{"field":"label"}}}
    ]}
  ]},
  {"layer":[
   {"data":{"values":[{"frame":"type II"}]},"mark":{"type":"rect","filled":false,"stroke":"#333","strokeWidth":1.3,"strokeDash":[5,3]},"encoding":{"x":{"datum":-4.75,"type":"quantitative","scale":{"domain":[-18.33,33.42],"nice":false}},"x2":{"datum":33.05},"y":{"datum":0.063,"type":"quantitative","scale":{"domain":[-1.3774,0.7925],"nice":false}},"y2":{"datum":-1.283}}},
   {"data":{"name":"ins"},"transform":[{"filter":"datum.inset==='C'"}],
    "encoding":{"x":{"field":"t","type":"quantitative","scale":{"domain":[-18.33,33.42],"nice":false}}},
    "layer":[
     {"transform":[{"filter":"datum.series==='control'"}],"mark":{"type":"area","color":"#fdcf8f"},"encoding":{"y":{"field":"lo","type":"quantitative","scale":{"domain":[-1.3774,0.7925],"nice":false}},"y2":{"field":"hi"}}},
     {"transform":[{"filter":"datum.series==='modulator'"}],"mark":{"type":"area","color":"#5dd3ec","opacity":0.9},"encoding":{"y":{"field":"lo","type":"quantitative","scale":{"domain":[-1.3774,0.7925],"nice":false}},"y2":{"field":"hi"}}},
     {"transform":[{"filter":"datum.series==='control'"}],"mark":{"type":"line","color":"#262626","strokeWidth":1.2},"encoding":{"y":{"field":"mean","type":"quantitative","scale":{"domain":[-1.3774,0.7925],"nice":false}}}},
     {"transform":[{"filter":"datum.series==='modulator'"}],"mark":{"type":"line","color":"#3c7ad4","strokeWidth":1.2},"encoding":{"y":{"field":"mean","type":"quantitative","scale":{"domain":[-1.3774,0.7925],"nice":false}}}}
    ]},
   {"data":{"values":[{"txt":"type II"}]},"mark":{"type":"text","align":"center","baseline":"middle","fontSize":19},"encoding":{"x":{"datum":21.8,"type":"quantitative","scale":{"domain":[-18.33,33.42],"nice":false}},"y":{"datum":-0.858,"type":"quantitative","scale":{"domain":[-1.3774,0.7925],"nice":false}},"text":{"field":"txt"}}}
  ]}
 ]},
 {"width":216,"height":223,"layer":[
  {"data":{"name":"tr"},"transform":[{"filter":"datum.row==='D' && datum.panel===1"}],
   "encoding":{"x":{"field":"t","type":"quantitative","scale":{"domain":[-7.06,120],"nice":false}}},
   "layer":[
    {"mark":{"type":"area","color":"#fdcf8f"},"encoding":{"y":{"field":"lo","type":"quantitative","scale":{"domain":[-1.907,0.323],"nice":false}},"y2":{"field":"hi"}}},
    {"mark":{"type":"line","color":"#262626","strokeWidth":1.2},"encoding":{"y":{"field":"mean","type":"quantitative","scale":{"domain":[-1.907,0.323],"nice":false}}}}
   ]},
  {"data":{"name":"apps"},"transform":[{"filter":"datum.row==='D' && datum.panel===1"}],
   "encoding":{"x":{"field":"t0","type":"quantitative","scale":{"domain":[-7.06,120],"nice":false}}},
   "layer":[
    {"mark":{"type":"rect","fill":"#111"},"encoding":{"x2":{"field":"t1"},"y":{"datum":0.14,"type":"quantitative","scale":{"domain":[-1.907,0.323],"nice":false}},"y2":{"datum":0.103}}},
    {"mark":{"type":"text","align":"left","baseline":"middle","dx":-6.5,"fontSize":13.5},"encoding":{"y":{"datum":0.24,"type":"quantitative","scale":{"domain":[-1.907,0.323],"nice":false}},"text":{"field":"label"}}}
   ]},
  {"data":{"values":[{"letter":"D"}]},"mark":{"type":"text","align":"left","baseline":"middle","fontSize":25},"encoding":{"x":{"datum":-7.06,"type":"quantitative","scale":{"domain":[-7.06,120],"nice":false}},"y":{"datum":-0.35,"type":"quantitative","scale":{"domain":[-1.907,0.323],"nice":false}},"text":{"field":"letter"}}}
 ]},
 {"width":204,"height":223,"layer":[
  {"data":{"name":"tr"},"transform":[{"filter":"datum.row==='D' && datum.panel===2"}],
   "encoding":{"x":{"field":"t","type":"quantitative","scale":{"domain":[0,120],"nice":false}}},
   "layer":[
    {"mark":{"type":"area","color":"#fdcf8f"},"encoding":{"y":{"field":"lo","type":"quantitative","scale":{"domain":[-1.907,0.323],"nice":false}},"y2":{"field":"hi"}}},
    {"mark":{"type":"line","color":"#262626","strokeWidth":1.2},"encoding":{"y":{"field":"mean","type":"quantitative","scale":{"domain":[-1.907,0.323],"nice":false}}}}
   ]},
  {"data":{"name":"apps"},"transform":[{"filter":"datum.row==='D' && datum.panel===2"}],
   "encoding":{"x":{"field":"t0","type":"quantitative","scale":{"domain":[0,120],"nice":false}}},
   "layer":[
    {"mark":{"type":"rect","fill":"#ee1c25"},"encoding":{"x2":{"field":"t1"},"y":{"datum":0.167,"type":"quantitative","scale":{"domain":[-1.907,0.323],"nice":false}},"y2":{"datum":0.123}}},
    {"mark":{"type":"text","align":"left","baseline":"middle","dx":-14,"fontSize":14},"encoding":{"y":{"datum":0.24,"type":"quantitative","scale":{"domain":[-1.907,0.323],"nice":false}},"text":{"field":"label"}}}
   ]}
 ]},
 {"width":207,"height":223,"layer":[
  {"data":{"name":"tr"},"transform":[{"filter":"datum.row==='D' && datum.panel===3"}],
   "encoding":{"x":{"field":"t","type":"quantitative","scale":{"domain":[0,121.76],"nice":false}}},
   "layer":[
    {"mark":{"type":"area","color":"#fdcf8f"},"encoding":{"y":{"field":"lo","type":"quantitative","scale":{"domain":[-1.907,0.323],"nice":false}},"y2":{"field":"hi"}}},
    {"mark":{"type":"line","color":"#262626","strokeWidth":1.2},"encoding":{"y":{"field":"mean","type":"quantitative","scale":{"domain":[-1.907,0.323],"nice":false}}}}
   ]},
  {"data":{"name":"apps"},"transform":[{"filter":"datum.row==='D' && datum.panel===3"}],
   "encoding":{"x":{"field":"t0","type":"quantitative","scale":{"domain":[0,121.76],"nice":false}}},
   "layer":[
    {"mark":{"type":"rect","fill":"#111"},"encoding":{"x2":{"field":"t1"},"y":{"datum":0.14,"type":"quantitative","scale":{"domain":[-1.907,0.323],"nice":false}},"y2":{"datum":0.103}}},
    {"mark":{"type":"text","align":"left","baseline":"middle","dx":-6.5,"fontSize":13.5},"encoding":{"y":{"datum":0.24,"type":"quantitative","scale":{"domain":[-1.907,0.323],"nice":false}},"text":{"field":"label"}}}
   ]}
 ]},
 {"width":216,"height":212,"layer":[
  {"data":{"name":"tr"},"transform":[{"filter":"datum.row==='E' && datum.panel===1"}],
   "encoding":{"x":{"field":"t","type":"quantitative","scale":{"domain":[-7.06,120],"nice":false}}},
   "layer":[
    {"mark":{"type":"area","color":"#fdcf8f"},"encoding":{"y":{"field":"lo","type":"quantitative","scale":{"domain":[-1.8,0.32],"nice":false}},"y2":{"field":"hi"}}},
    {"mark":{"type":"line","color":"#262626","strokeWidth":1.2},"encoding":{"y":{"field":"mean","type":"quantitative","scale":{"domain":[-1.8,0.32],"nice":false}}}}
   ]},
  {"data":{"name":"apps"},"transform":[{"filter":"datum.row==='E' && datum.panel===1"}],
   "encoding":{"x":{"field":"t0","type":"quantitative","scale":{"domain":[-7.06,120],"nice":false}}},
   "layer":[
    {"mark":{"type":"rect","fill":"#111"},"encoding":{"x2":{"field":"t1"},"y":{"datum":0.1,"type":"quantitative","scale":{"domain":[-1.8,0.32],"nice":false}},"y2":{"datum":0.067}}},
    {"mark":{"type":"text","align":"left","baseline":"middle","dx":-6.5,"fontSize":13.5},"encoding":{"y":{"datum":0.233,"type":"quantitative","scale":{"domain":[-1.8,0.32],"nice":false}},"text":{"field":"label"}}}
   ]},
  {"data":{"values":[{"letter":"E"}]},"mark":{"type":"text","align":"left","baseline":"middle","fontSize":25},"encoding":{"x":{"datum":-7.06,"type":"quantitative","scale":{"domain":[-7.06,120],"nice":false}},"y":{"datum":-0.3,"type":"quantitative","scale":{"domain":[-1.8,0.32],"nice":false}},"text":{"field":"letter"}}}
 ]},
 {"width":204,"height":212,"layer":[
  {"data":{"name":"tr"},"transform":[{"filter":"datum.row==='E' && datum.panel===2"}],
   "encoding":{"x":{"field":"t","type":"quantitative","scale":{"domain":[0,120],"nice":false}}},
   "layer":[
    {"mark":{"type":"area","color":"#fdcf8f"},"encoding":{"y":{"field":"lo","type":"quantitative","scale":{"domain":[-1.8,0.32],"nice":false}},"y2":{"field":"hi"}}},
    {"mark":{"type":"line","color":"#262626","strokeWidth":1.2},"encoding":{"y":{"field":"mean","type":"quantitative","scale":{"domain":[-1.8,0.32],"nice":false}}}}
   ]},
  {"data":{"name":"apps"},"transform":[{"filter":"datum.row==='E' && datum.panel===2"}],
   "encoding":{"x":{"field":"t0","type":"quantitative","scale":{"domain":[0,120],"nice":false}}},
   "layer":[
    {"mark":{"type":"rect","fill":"#cc1a2e","stroke":"#6a1020","strokeWidth":1},"encoding":{"x2":{"field":"t1"},"y":{"datum":0.105,"type":"quantitative","scale":{"domain":[-1.8,0.32],"nice":false}},"y2":{"datum":0.064}}},
    {"mark":{"type":"text","align":"left","baseline":"middle","dx":-14,"fontSize":14},"encoding":{"y":{"datum":0.233,"type":"quantitative","scale":{"domain":[-1.8,0.32],"nice":false}},"text":{"field":"label"}}}
   ]}
 ]},
 {"width":207,"height":212,"layer":[
  {"data":{"name":"tr"},"transform":[{"filter":"datum.row==='E' && datum.panel===3"}],
   "encoding":{"x":{"field":"t","type":"quantitative","scale":{"domain":[0,121.76],"nice":false}}},
   "layer":[
    {"mark":{"type":"area","color":"#fdcf8f"},"encoding":{"y":{"field":"lo","type":"quantitative","scale":{"domain":[-1.8,0.32],"nice":false}},"y2":{"field":"hi"}}},
    {"mark":{"type":"line","color":"#262626","strokeWidth":1.2},"encoding":{"y":{"field":"mean","type":"quantitative","scale":{"domain":[-1.8,0.32],"nice":false}}}}
   ]},
  {"data":{"name":"apps"},"transform":[{"filter":"datum.row==='E' && datum.panel===3"}],
   "encoding":{"x":{"field":"t0","type":"quantitative","scale":{"domain":[0,121.76],"nice":false}}},
   "layer":[
    {"mark":{"type":"rect","fill":"#111"},"encoding":{"x2":{"field":"t1"},"y":{"datum":0.1,"type":"quantitative","scale":{"domain":[-1.8,0.32],"nice":false}},"y2":{"datum":0.067}}},
    {"mark":{"type":"text","align":"left","baseline":"middle","dx":-6.5,"fontSize":13.5},"encoding":{"y":{"datum":0.233,"type":"quantitative","scale":{"domain":[-1.8,0.32],"nice":false}},"text":{"field":"label"}}}
   ]}
 ]}
]
}
